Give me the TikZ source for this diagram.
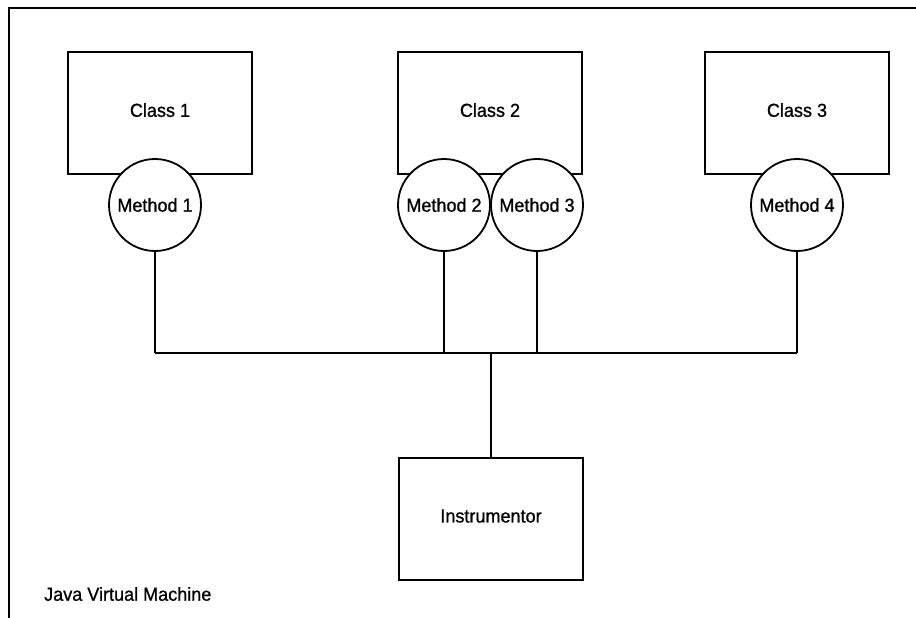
\documentclass[tikz,border=0pt]{standalone}
\usepackage{fontspec}
\setmainfont{Liberation Sans}[FakeStretch=0.96,FakeBold=0.9]
\begin{document}
\begin{tikzpicture}[x=1pt,y=-1pt,
  lbl/.style={font=\fontsize{18.8}{21}\selectfont},
  classbox/.style={draw,line width=2pt,fill=white,minimum width=184pt,minimum height=122pt,inner sep=0pt,outer sep=0pt,text depth=6pt,lbl},
  methodcirc/.style={draw,circle,line width=1.8pt,fill=white,minimum size=92pt,inner sep=0pt,outer sep=0pt,lbl},
  wire/.style={line width=2pt},
  frameline/.style={line width=2pt}]
\useasboundingbox (0,0) rectangle (916,618);
% frame
\coordinate (fbl) at (9,619);
\coordinate (ftl) at (9,8);
\coordinate (ftr) at (917,8);
\draw[frameline] (fbl) -- (ftl) -- (ftr);
% classes
\node[classbox] (c1) at (160,113) {Class 1};
\node[classbox] (c2) at (490,113) {Class 2};
\node[classbox] (c3) at (797,113) {Class 3};
% methods
\node[methodcirc] (m1) at (155,205) {Method 1};
\node[methodcirc] (m2) at (444,205) {Method 2};
\node[methodcirc] (m3) at (537,205) {Method 3};
\node[methodcirc] (m4) at (797,205) {Method 4};
% instrumentor
\node[classbox] (inst) at (491,519) {Instrumentor};
% bus
\coordinate (bus) at (491,353);
\draw[wire] (m1.south |- bus) -- (m4.south |- bus);
\draw[wire] (m1.south) -- (m1.south |- bus);
\draw[wire] (m2.south) -- (m2.south |- bus);
\draw[wire] (m3.south) -- (m3.south |- bus);
\draw[wire] (m4.south) -- (m4.south |- bus);
\draw[wire] (bus) -- (inst.north);
% label
\node[anchor=west,inner sep=0pt,lbl] (jvm) at (44,594) {Java Virtual Machine};
\end{tikzpicture}
\end{document}
